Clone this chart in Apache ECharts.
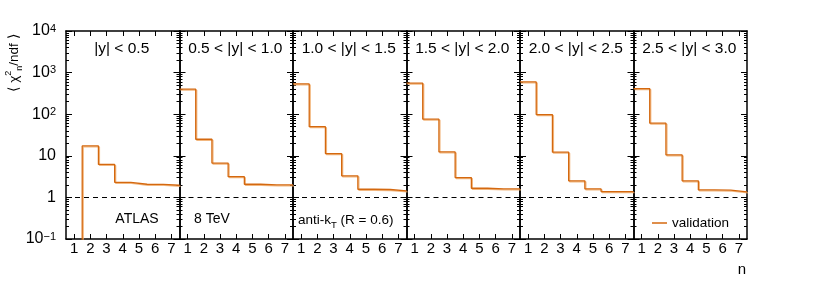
<!DOCTYPE html>
<html><head><meta charset="utf-8">
<script src="https://cdn.jsdelivr.net/npm/echarts@6/dist/echarts.min.js"></script>
<style>html,body{margin:0;padding:0;background:#fff}#c{width:830px;height:284px}</style>
</head><body><div id="c"></div>
<script>
// ---- data ----
const nValues = [1, 2, 3, 4, 5, 6, 7];
const panelTitles = ['|y| < 0.5', '0.5 < |y| < 1.0', '1.0 < |y| < 1.5', '1.5 < |y| < 2.0', '2.0 < |y| < 2.5', '2.5 < |y| < 3.0'];
const chi2_y00_05 = [0.001, 17.3, 6.2, 2.3, 2.07, 2.05, 1.96];
const chi2_y05_10 = [400, 25, 6.7, 3.15, 2.07, 2.0, 2.0];
const chi2_y10_15 = [535, 50, 11.3, 3.3, 1.57, 1.55, 1.43];
const chi2_y15_20 = [556, 76, 12.4, 3.0, 1.66, 1.6, 1.6];
const chi2_y20_25 = [597, 98, 12.2, 2.5, 1.6, 1.38, 1.38];
const chi2_y25_30 = [412, 61, 10.5, 2.5, 1.51, 1.5, 1.36];
const panelValues = [chi2_y00_05, chi2_y05_10, chi2_y10_15, chi2_y15_20, chi2_y20_25, chi2_y25_30];
const yMajorTicks = [0.1, 1, 10, 100, 1000, 10000];
const referenceLine = 1;
const seriesName = 'validation';

// ---- layout ----
const plotLeft = 66, plotRight = 747, plotTop = 31, plotHeight = 208;
const panelW = (plotRight - plotLeft) / 6;
const FONT = 'Liberation Sans, Arial, Helvetica, sans-serif';
const lineColor = '#d4680f';

const yMinorTicks = [];
for (let k = -1; k <= 3; k++) for (let m = 2; m <= 9; m++) yMinorTicks.push(+(m * Math.pow(10, k)).toPrecision(3));

function yLabel(v) {
  const e = Math.round(Math.log10(v));
  if (e === 0) return '1';
  if (e === 1) return '10';
  return '10{sup|' + (e < 0 ? '\u2212' + (-e) : e) + '}';
}

const grids = [], xAxes = [], yAxes = [], series = [];
panelValues.forEach((vals, i) => {
  grids.push({ left: plotLeft + i * panelW, top: plotTop, width: panelW, height: plotHeight });
  const axLine = { show: true, lineStyle: { color: '#000', width: 1.5 } };
  ['bottom', 'top'].forEach(pos => {
    xAxes.push({
      type: 'value', gridIndex: i, position: pos, min: 0.5, max: 7.5,
      axisLine: axLine, splitLine: { show: false },
      axisTick: { show: true, inside: true, length: 5, customValues: nValues, lineStyle: { color: '#000', width: 1 } },
      axisLabel: { show: pos === 'bottom', customValues: nValues, color: '#000', fontFamily: FONT, fontSize: 15, margin: 2 }
    });
  });
  ['left', 'right'].forEach(pos => {
    yAxes.push({
      type: 'log', logBase: 10, gridIndex: i, position: pos, min: 0.1, max: 10000,
      axisLine: axLine, splitLine: { show: false },
      axisTick: { show: true, inside: true, length: 6, customValues: yMajorTicks, lineStyle: { color: '#000', width: 1 } },
      axisLabel: {
        show: i === 0 && pos === 'left', customValues: yMajorTicks, margin: 10,
        color: '#000', fontFamily: FONT, fontSize: 16,
        formatter: yLabel,
        rich: { sup: { fontSize: 11, verticalAlign: 'top', lineHeight: 11, color: '#000', fontFamily: FONT } }
      }
    });
    yAxes.push({
      type: 'log', logBase: 10, gridIndex: i, position: pos, min: 0.1, max: 10000,
      axisLine: { show: false }, splitLine: { show: false },
      axisTick: { show: true, inside: true, length: 3, customValues: yMinorTicks, lineStyle: { color: '#000', width: 1 } },
      axisLabel: { show: false }
    });
  });
  const data = nValues.map((n, j) => [n - 0.5, vals[j]]);
  data.push([nValues[nValues.length - 1] + 0.5, vals[vals.length - 1]]);
  series.push({
    type: 'line', name: seriesName, xAxisIndex: i * 2, yAxisIndex: i * 4,
    step: 'end', showSymbol: false, symbol: 'none', clip: true, data,
    lineStyle: { color: lineColor, width: 1.3, shadowColor: 'rgba(240,170,105,0.85)', shadowOffsetX: 1, shadowOffsetY: 1, shadowBlur: 0 },
    itemStyle: { color: lineColor },
    markLine: {
      silent: true, symbol: 'none', label: { show: false },
      lineStyle: { color: '#000', type: [5, 4], width: 1 },
      data: [{ yAxis: referenceLine }]
    },
    z: 3
  });
});

const graphics = [];
panelTitles.forEach((t, i) => {
  graphics.push({ type: 'text', x: plotLeft + (i + 0.5) * panelW - 1, y: 49,
    style: { text: t, font: '15.5px ' + FONT, fill: '#000', textAlign: 'center', textVerticalAlign: 'middle' } });
});
graphics.push({ type: 'text', x: 137, y: 219, style: { text: 'ATLAS', font: '14px ' + FONT, fill: '#000', textAlign: 'center', textVerticalAlign: 'middle' } });
graphics.push({ type: 'text', x: 194, y: 219, style: { text: '8 TeV', font: '14px ' + FONT, fill: '#000', textAlign: 'left', textVerticalAlign: 'middle' } });
graphics.push({ type: 'text', x: 298, y: 220, style: {
  text: '{b|anti-k}{sub|T}{b| (R = 0.6)}', fill: '#000', textAlign: 'left', textVerticalAlign: 'middle',
  rich: { b: { fontSize: 13.5, lineHeight: 20, verticalAlign: 'middle', fill: '#000', fontFamily: FONT },
          sub: { fontSize: 9.5, verticalAlign: 'bottom', lineHeight: 10, fill: '#000', fontFamily: FONT } } } });
graphics.push({ type: 'text', x: 742, y: 270, style: { text: 'n', font: '15px ' + FONT, fill: '#000', textAlign: 'center', textVerticalAlign: 'middle' } });
graphics.push({ type: 'text', x: 14, y: 63, rotation: Math.PI / 2, style: {
  text: '{b|\u27E8 \u03C7}{sup|2}{sub|n}{b|/ndf \u27E9}', fill: '#000', textAlign: 'center', textVerticalAlign: 'middle',
  rich: { b: { fontSize: 13.5, lineHeight: 20, verticalAlign: 'middle', fill: '#000', fontFamily: FONT },
          sup: { fontSize: 9, verticalAlign: 'top', lineHeight: 10, fill: '#000', fontFamily: FONT },
          sub: { fontSize: 9, verticalAlign: 'bottom', lineHeight: 10, fill: '#000', fontFamily: FONT } } } });

const chart = echarts.init(document.getElementById('c'), null, { renderer: 'canvas' });
chart.setOption({
  animation: false,
  backgroundColor: '#fff',
  grid: grids, xAxis: xAxes, yAxis: yAxes, series,
  legend: { data: [seriesName], left: 647, top: 211, icon: 'rect', itemWidth: 15, itemHeight: 1.5,
    textStyle: { color: '#000', fontFamily: FONT, fontSize: 13.5 }, selectedMode: false },
  graphic: graphics
});
</script></body></html>
